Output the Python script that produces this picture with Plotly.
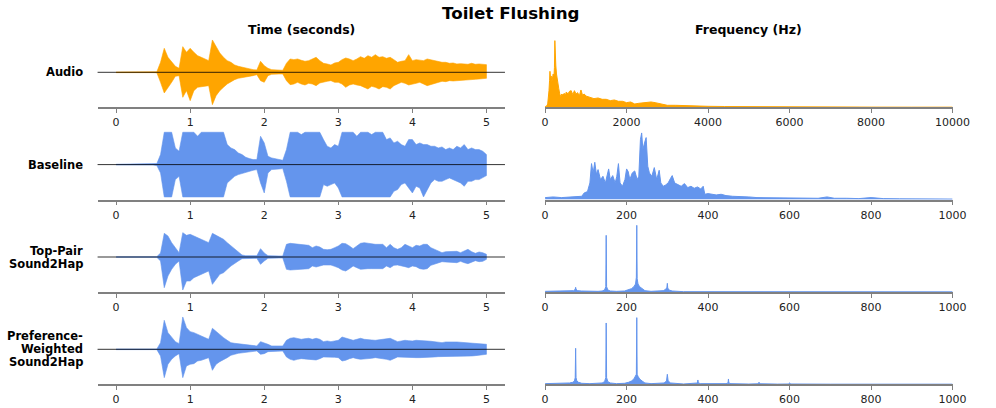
import plotly.graph_objects as go

# ---------------- data ----------------
TIME = [round(i * 0.05, 2) for i in range(101)]  # seconds grid (0..5)

AUDIO_UP = [0.01]*10 + [
    0.01, 0.015, 0.3, 0.72, 0.45, 0.3, 0.18, 0.12, 0.77, 0.6,
    0.72, 0.6, 0.5, 0.45, 0.4, 0.35, 0.97, 0.75, 0.58, 0.45,
    0.35, 0.3, 0.22, 0.18, 0.15, 0.12, 0.1, 0.08, 0.07, 0.33,
    0.2, 0.12, 0.08, 0.07, 0.07, 0.06, 0.27, 0.4, 0.38, 0.4,
    0.36, 0.33, 0.35, 0.4, 0.45, 0.35, 0.27, 0.25, 0.22, 0.28,
    0.3, 0.38, 0.43, 0.4, 0.35, 0.4, 0.47, 0.42, 0.5, 0.45,
    0.53, 0.45, 0.47, 0.42, 0.45, 0.38, 0.3, 0.33, 0.35, 0.53,
    0.35, 0.38, 0.37, 0.35, 0.4, 0.37, 0.35, 0.33, 0.3, 0.3,
    0.27, 0.28, 0.25, 0.26, 0.25, 0.24, 0.27, 0.24, 0.25, 0.24,
    0.23]
AUDIO_LO = [0.01]*10 + [
    0.01, 0.015, 0.3, 0.62, 0.48, 0.3, 0.12, 0.1, 0.75, 0.55,
    0.85, 0.55, 0.45, 0.45, 0.42, 0.4, 0.97, 0.7, 0.55, 0.45,
    0.35, 0.28, 0.22, 0.18, 0.15, 0.13, 0.12, 0.1, 0.07, 0.25,
    0.3, 0.1, 0.06, 0.05, 0.05, 0.05, 0.25, 0.37, 0.35, 0.3,
    0.35, 0.38, 0.33, 0.35, 0.4, 0.32, 0.3, 0.27, 0.25, 0.3,
    0.3, 0.35, 0.45, 0.38, 0.35, 0.38, 0.4, 0.45, 0.5, 0.42,
    0.45, 0.5, 0.43, 0.45, 0.5, 0.4, 0.35, 0.3, 0.33, 0.38,
    0.35, 0.33, 0.3, 0.35, 0.4, 0.35, 0.33, 0.3, 0.27, 0.28,
    0.25, 0.26, 0.25, 0.24, 0.23, 0.22, 0.22, 0.21, 0.2, 0.2,
    0.18]

BASE_UP = [0.01]*10 + [
    0.01, 0.03, 0.3, 0.97, 0.97, 0.97, 0.5, 0.4, 0.97, 0.97,
    0.97, 0.97, 0.85, 0.97, 0.97, 0.97, 0.97, 0.97, 0.97, 0.97,
    0.6, 0.5, 0.45, 0.35, 0.3, 0.22, 0.18, 0.15, 0.15, 0.85,
    0.65, 0.25, 0.2, 0.17, 0.15, 0.13, 0.45, 0.97, 0.97, 0.97,
    0.9, 0.97, 0.97, 0.97, 0.97, 0.97, 0.75, 0.55, 0.5, 0.6,
    0.55, 0.97, 0.97, 0.97, 0.97, 0.85, 0.97, 0.97, 0.97, 0.9,
    0.97, 0.97, 0.97, 0.75, 0.8, 0.65, 0.7, 0.6, 0.55, 0.75,
    0.75, 0.6, 0.65, 0.6, 0.6, 0.55, 0.55, 0.5, 0.53, 0.45,
    0.5, 0.45, 0.55, 0.5, 0.6, 0.45, 0.5, 0.45, 0.45, 0.4,
    0.3]
BASE_LO = [0.01]*10 + [
    0.01, 0.03, 0.25, 0.97, 0.97, 0.97, 0.45, 0.35, 0.97, 0.97,
    0.97, 0.97, 0.97, 0.97, 0.97, 0.97, 0.97, 0.97, 0.97, 0.97,
    0.55, 0.45, 0.35, 0.3, 0.25, 0.22, 0.2, 0.17, 0.15, 0.55,
    0.85, 0.25, 0.15, 0.14, 0.13, 0.12, 0.5, 0.97, 0.97, 0.97,
    0.97, 0.97, 0.97, 0.97, 0.97, 0.97, 0.6, 0.65, 0.6, 0.55,
    0.7, 0.97, 0.97, 0.97, 0.97, 0.97, 0.97, 0.97, 0.97, 0.97,
    0.97, 0.97, 0.97, 0.97, 0.97, 0.8, 0.75, 0.6, 0.55, 0.7,
    0.85, 0.65, 0.7, 0.97, 0.75, 0.55, 0.45, 0.5, 0.5, 0.45,
    0.4, 0.45, 0.5, 0.55, 0.65, 0.5, 0.5, 0.45, 0.45, 0.4,
    0.33]

TOP_UP = [0.01]*10 + [
    0.01, 0.01, 0.12, 0.71, 0.63, 0.43, 0.28, 0.13, 0.73, 0.65,
    0.68, 0.63, 0.58, 0.53, 0.48, 0.43, 0.71, 0.65, 0.58, 0.53,
    0.43, 0.33, 0.23, 0.13, 0.06, 0.04, 0.04, 0.04, 0.04, 0.25,
    0.12, 0.04, 0.03, 0.03, 0.03, 0.03, 0.38, 0.41, 0.4, 0.39,
    0.38, 0.37, 0.35, 0.28, 0.33, 0.3, 0.23, 0.22, 0.23, 0.28,
    0.33, 0.41, 0.4, 0.33, 0.25, 0.33, 0.41, 0.43, 0.41, 0.4,
    0.38, 0.38, 0.38, 0.28, 0.38, 0.28, 0.23, 0.28, 0.38, 0.33,
    0.28, 0.35, 0.33, 0.38, 0.38, 0.28, 0.23, 0.18, 0.13, 0.16,
    0.16, 0.18, 0.17, 0.13, 0.18, 0.23, 0.16, 0.11, 0.15, 0.13,
    0.08]
TOP_LO = [0.01]*10 + [
    0.01, 0.01, 0.12, 0.92, 0.57, 0.37, 0.22, 0.12, 0.99, 0.72,
    0.72, 0.62, 0.57, 0.52, 0.47, 0.42, 0.82, 0.67, 0.52, 0.47,
    0.37, 0.27, 0.19, 0.12, 0.05, 0.04, 0.04, 0.04, 0.04, 0.22,
    0.12, 0.04, 0.03, 0.03, 0.03, 0.03, 0.37, 0.39, 0.39, 0.38,
    0.37, 0.36, 0.35, 0.27, 0.3, 0.27, 0.24, 0.24, 0.24, 0.28,
    0.32, 0.39, 0.42, 0.35, 0.27, 0.32, 0.37, 0.37, 0.35, 0.35,
    0.34, 0.35, 0.35, 0.27, 0.32, 0.25, 0.24, 0.27, 0.29, 0.32,
    0.27, 0.29, 0.35, 0.37, 0.35, 0.25, 0.2, 0.17, 0.14, 0.15,
    0.15, 0.17, 0.17, 0.13, 0.17, 0.2, 0.15, 0.11, 0.14, 0.13,
    0.07]

PREF_UP = [0.01]*10 + [
    0.01, 0.01, 0.2, 0.87, 0.5, 0.35, 0.23, 0.17, 0.97, 0.65,
    0.53, 0.5, 0.45, 0.4, 0.35, 0.3, 0.63, 0.53, 0.43, 0.35,
    0.27, 0.2, 0.18, 0.17, 0.15, 0.13, 0.12, 0.11, 0.1, 0.23,
    0.2, 0.15, 0.1, 0.1, 0.1, 0.1, 0.27, 0.33, 0.35, 0.32,
    0.3, 0.32, 0.33, 0.3, 0.33, 0.3, 0.23, 0.25, 0.23, 0.25,
    0.27, 0.37, 0.33, 0.3, 0.27, 0.3, 0.33, 0.3, 0.3, 0.28,
    0.27, 0.28, 0.3, 0.32, 0.33, 0.28, 0.23, 0.25, 0.27, 0.26,
    0.25, 0.27, 0.27, 0.26, 0.25, 0.24, 0.23, 0.22, 0.2, 0.22,
    0.23, 0.22, 0.22, 0.21, 0.2, 0.21, 0.2, 0.19, 0.18, 0.17,
    0.15]
PREF_LO = [0.01]*10 + [
    0.01, 0.01, 0.2, 0.85, 0.45, 0.3, 0.2, 0.13, 0.85, 0.5,
    0.45, 0.43, 0.35, 0.33, 0.3, 0.25, 0.63, 0.45, 0.37, 0.3,
    0.25, 0.18, 0.15, 0.12, 0.1, 0.08, 0.07, 0.06, 0.05, 0.15,
    0.13, 0.07, 0.05, 0.05, 0.05, 0.05, 0.23, 0.3, 0.33, 0.3,
    0.28, 0.3, 0.3, 0.31, 0.32, 0.28, 0.23, 0.24, 0.23, 0.24,
    0.25, 0.35, 0.33, 0.28, 0.25, 0.28, 0.3, 0.3, 0.28, 0.27,
    0.25, 0.27, 0.28, 0.3, 0.33, 0.28, 0.23, 0.24, 0.25, 0.25,
    0.25, 0.25, 0.25, 0.25, 0.25, 0.24, 0.23, 0.22, 0.2, 0.21,
    0.22, 0.22, 0.22, 0.21, 0.2, 0.2, 0.2, 0.19, 0.18, 0.17,
    0.15]

# spectra (normalised magnitude)
AUDIO_SPEC_F = [0, 40, 64, 80, 96, 110, 120, 135, 150, 165,
                180, 200, 215, 230, 240, 250, 264, 280, 296, 315,
                336, 360, 384, 410, 440, 470, 500, 520, 560, 600,
                640, 680, 720, 760, 800, 840, 880, 920, 960, 1000,
                1100, 1200, 1300, 1400, 1500, 1600, 1700, 1800, 1900, 2000,
                2100, 2200, 2300, 2400, 2500, 2600, 2700, 2800, 2900, 3000,
                3200, 3400, 3600, 3800, 4000, 4400, 4800, 5400, 6000, 6600,
                7200, 8000, 9000, 10000]
AUDIO_SPEC_A = [0.01, 0.02, 0.05, 0.12, 0.25, 0.4, 0.54, 0.42, 0.47, 0.38,
                0.45, 0.5, 0.42, 0.6, 1.0, 0.7, 0.62, 0.5, 0.43, 0.3,
                0.28, 0.2, 0.16, 0.2, 0.18, 0.21, 0.18, 0.23, 0.2, 0.24,
                0.25, 0.19, 0.25, 0.2, 0.22, 0.17, 0.26, 0.18, 0.2, 0.17,
                0.15, 0.13, 0.14, 0.12, 0.12, 0.1, 0.11, 0.09, 0.09, 0.07,
                0.08, 0.05, 0.06, 0.07, 0.08, 0.08, 0.07, 0.06, 0.04, 0.03,
                0.03, 0.025, 0.02, 0.02, 0.015, 0.012, 0.01, 0.008, 0.006, 0.005,
                0.004, 0.003, 0.002, 0.002]

BASE_SPEC_F = [0, 20, 40, 60, 80, 90, 96, 104, 110, 114,
               118, 122, 126, 130, 136, 142, 148, 152, 156, 160,
               166, 172, 176, 180, 184, 190, 196, 200, 204, 208,
               214, 220, 226, 230, 234, 237, 240, 244, 248, 252,
               256, 262, 268, 274, 280, 284, 290, 296, 302, 308,
               312, 318, 326, 334, 342, 350, 358, 366, 374, 382,
               388, 392, 400, 410, 420, 432, 444, 460, 480, 500,
               520, 550, 580, 610, 640, 670, 692, 710, 740, 770,
               800, 830, 870, 920, 960, 1000]
BASE_SPEC_A = [0.03, 0.04, 0.03, 0.04, 0.04, 0.05, 0.1, 0.12, 0.25, 0.54,
               0.4, 0.56, 0.38, 0.45, 0.3, 0.35, 0.25, 0.38, 0.46, 0.3,
               0.36, 0.25, 0.35, 0.54, 0.25, 0.2, 0.3, 0.46, 0.42, 0.3,
               0.4, 0.43, 0.3, 0.35, 0.9, 1.0, 0.75, 0.85, 0.93, 0.5,
               0.4, 0.35, 0.48, 0.3, 0.44, 0.25, 0.2, 0.22, 0.25, 0.32,
               0.36, 0.25, 0.22, 0.2, 0.24, 0.18, 0.2, 0.17, 0.19, 0.16,
               0.2, 0.08, 0.09, 0.08, 0.07, 0.08, 0.06, 0.05, 0.05, 0.04,
               0.03, 0.03, 0.025, 0.02, 0.02, 0.02, 0.04, 0.02, 0.02, 0.015,
               0.03, 0.015, 0.012, 0.01, 0.01, 0.008]

TOP_SPEC_F = [0, 30, 60, 70, 74, 75, 76, 80, 90, 110,
              130, 140, 146, 149, 150, 151, 154, 160, 175, 195,
              205, 212, 218, 222, 224, 225, 226, 228, 232, 238,
              245, 260, 280, 290, 296, 299, 300, 301, 304, 312,
              340, 370, 375, 380, 420, 448, 450, 452, 500, 600,
              700, 800, 900, 1000]
TOP_SPEC_A = [0.01, 0.01, 0.015, 0.02, 0.04, 0.07, 0.04, 0.02, 0.015, 0.01,
              0.01, 0.015, 0.03, 0.08, 0.85, 0.08, 0.03, 0.015, 0.01, 0.015,
              0.03, 0.05, 0.08, 0.12, 0.22, 1.0, 0.2, 0.12, 0.08, 0.05,
              0.02, 0.01, 0.01, 0.02, 0.04, 0.07, 0.13, 0.06, 0.03, 0.015,
              0.005, 0.005, 0.012, 0.005, 0.004, 0.004, 0.01, 0.004, 0.003, 0.002,
              0.002, 0.002, 0.002, 0.002]

PREF_SPEC_F = [0, 30, 60, 68, 72, 74, 75, 76, 78, 82,
               90, 110, 130, 140, 146, 149, 150, 151, 154, 160,
               175, 195, 205, 212, 218, 222, 224, 225, 226, 228,
               232, 238, 245, 260, 280, 292, 298, 300, 302, 308,
               340, 368, 374, 375, 376, 382, 420, 444, 449, 450,
               451, 456, 500, 522, 525, 528, 570, 597, 600, 603,
               700, 800, 900, 1000]
PREF_SPEC_A = [0.01, 0.01, 0.02, 0.03, 0.05, 0.1, 0.54, 0.1, 0.05, 0.03,
               0.015, 0.01, 0.01, 0.02, 0.04, 0.1, 0.92, 0.1, 0.04, 0.02,
               0.01, 0.015, 0.03, 0.05, 0.08, 0.12, 0.15, 1.0, 0.15, 0.12,
               0.08, 0.05, 0.02, 0.01, 0.01, 0.02, 0.05, 0.15, 0.05, 0.02,
               0.005, 0.01, 0.02, 0.065, 0.02, 0.01, 0.005, 0.01, 0.02, 0.08,
               0.02, 0.01, 0.004, 0.008, 0.03, 0.008, 0.003, 0.005, 0.02, 0.005,
               0.002, 0.002, 0.002, 0.002]

ROW_LABELS = [["Audio"], ["Baseline"], ["Top-Pair", "Sound2Hap"],
              ["Preference-", "Weighted", "Sound2Hap"]]
TIME_TICKS = [0, 1, 2, 3, 4, 5]
FREQ_TICKS_AUDIO = [0, 2000, 4000, 6000, 8000, 10000]
FREQ_TICKS_HAP = [0, 200, 400, 600, 800, 1000]

ORANGE = "#FFA500"
BLUE = "#6495ED"

# ---------------- layout helpers ----------------
W, H = 996, 408
FONT = "DejaVu Sans"


def px(x):
    return x / W


def py(y):
    return 1 - y / H


def sfx(i):
    return "" if i == 1 else str(i)


LEFT_DOM = [px(95.7), px(512.3)]
RIGHT_DOM = [px(553.3), px(970.0)]
AXIS_BOTTOMS = [107.3, 199.6, 292.0, 384.3]
PLOT_H = 70.0

waves = [(AUDIO_UP, AUDIO_LO, ORANGE), (BASE_UP, BASE_LO, BLUE),
         (TOP_UP, TOP_LO, BLUE), (PREF_UP, PREF_LO, BLUE)]
specs = [(AUDIO_SPEC_F, AUDIO_SPEC_A, ORANGE, FREQ_TICKS_AUDIO),
         (BASE_SPEC_F, BASE_SPEC_A, BLUE, FREQ_TICKS_HAP),
         (TOP_SPEC_F, TOP_SPEC_A, BLUE, FREQ_TICKS_HAP),
         (PREF_SPEC_F, PREF_SPEC_A, BLUE, FREQ_TICKS_HAP)]

fig = go.Figure()
layout = dict(width=W, height=H, margin=dict(l=0, r=0, t=0, b=0),
              paper_bgcolor="white", plot_bgcolor="white", showlegend=False,
              font=dict(family=FONT, color="#222"))
shapes = []
annotations = []

axis_common = dict(showline=True, linecolor="#808080", linewidth=1.5,
                   ticks="outside", ticklen=4, tickwidth=1, tickcolor="#808080",
                   showgrid=False, zeroline=False,
                   tickfont=dict(family=FONT, size=11, color="#222"),
                   fixedrange=True)

for r in range(4):
    bottom = AXIS_BOTTOMS[r]
    ydom = [py(bottom), py(bottom - PLOT_H)]
    # waveform panel
    s = sfx(2 * r + 1)
    up, lo, col = waves[r]
    xs = TIME + TIME[::-1]
    ys = up + [-v for v in lo][::-1]
    fig.add_trace(go.Scatter(x=xs, y=ys, fill="toself", fillcolor=col,
                             line=dict(color=col, width=0.6), mode="lines",
                             hoverinfo="skip", xaxis="x" + s, yaxis="y" + s))
    layout["xaxis" + s] = dict(domain=LEFT_DOM, anchor="y" + s,
                               range=[-0.25, 5.25], tickvals=TIME_TICKS,
                               ticktext=[str(t) for t in TIME_TICKS], **axis_common)
    layout["yaxis" + s] = dict(domain=ydom, anchor="x" + s, range=[-1.05, 1.05],
                               visible=False, fixedrange=True)
    zl_color = "rgba(0,0,0,0.4)" if r == 2 else "rgba(0,0,0,0.8)"
    zl_w = 2 if r == 2 else 1
    shapes.append(dict(type="line", xref="x" + s + " domain", yref="y" + s,
                       x0=0, x1=1, y0=0, y1=0, layer="above",
                       line=dict(color=zl_color, width=zl_w)))
    # spectrum panel
    s = sfx(2 * r + 2)
    f, a, col, ticks = specs[r]
    fig.add_trace(go.Scatter(x=f, y=a, fill="tozeroy", fillcolor=col,
                             line=dict(color=col, width=1), mode="lines",
                             hoverinfo="skip", xaxis="x" + s, yaxis="y" + s))
    layout["xaxis" + s] = dict(domain=RIGHT_DOM, anchor="y" + s,
                               range=[0, ticks[-1]], tickvals=ticks,
                               ticktext=[str(t) for t in ticks], **axis_common)
    layout["yaxis" + s] = dict(domain=ydom, anchor="x" + s, range=[0, 1.05],
                               visible=False, fixedrange=True)

# titles
annotations.append(dict(text="<b>Toilet Flushing</b>", x=px(518), y=py(12.5),
                        xref="paper", yref="paper", showarrow=False,
                        xanchor="center", yanchor="middle",
                        font=dict(family=FONT, size=16.7, color="black")))
annotations.append(dict(text="<b>Time (seconds)</b>", x=(LEFT_DOM[0] + LEFT_DOM[1]) / 2,
                        y=py(30), xref="paper", yref="paper", showarrow=False,
                        xanchor="center", yanchor="middle",
                        font=dict(family=FONT, size=12.5, color="black")))
annotations.append(dict(text="<b>Frequency (Hz)</b>", x=(RIGHT_DOM[0] + RIGHT_DOM[1]) / 2,
                        y=py(30), xref="paper", yref="paper", showarrow=False,
                        xanchor="center", yanchor="middle",
                        font=dict(family=FONT, size=12.5, color="black")))

# row labels (one annotation per line)
LINE_GAP = 13.0
for r, lines in enumerate(ROW_LABELS):
    center = AXIS_BOTTOMS[r] - PLOT_H / 2
    n = len(lines)
    for k, line in enumerate(lines):
        yc = center + (k - (n - 1) / 2) * LINE_GAP
        annotations.append(dict(text=f"<b>{line}</b>", x=px(82.5), y=py(yc),
                                xref="paper", yref="paper", showarrow=False,
                                xanchor="right", yanchor="middle",
                                font=dict(family=FONT, size=11.5, color="black")))

layout["shapes"] = shapes
layout["annotations"] = annotations
fig.update_layout(**layout)
fig.write_html(
    "out.html",
    config={"displayModeBar": False},
    post_script="document.body.style.margin='0';document.body.style.padding='0';"
                "document.body.style.overflow='hidden';",
)
